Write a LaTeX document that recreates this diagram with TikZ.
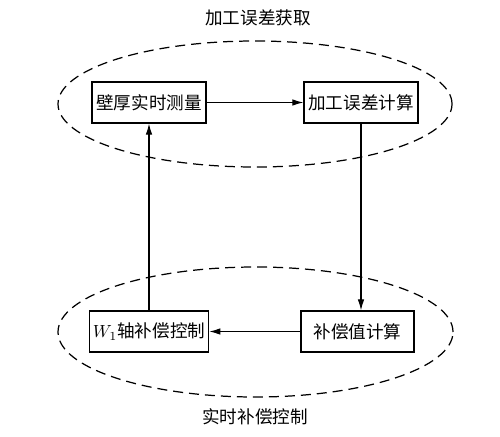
\documentclass[tikz,border=0pt]{standalone}
\usepackage{fontspec}
\newfontfamily\cjk{Noto Sans CJK SC}
\usetikzlibrary{arrows.meta, positioning}

\begin{document}
\begin{tikzpicture}[
    box/.style={draw, line width=0.7pt, minimum width=2.28cm, minimum height=0.82cm, inner sep=2pt, font=\cjk\fontsize{10}{12}\selectfont},
    zone/.style={draw, line width=0.7pt, dash pattern=on 0.2cm off 0.12cm},
    title/.style={font=\cjk\fontsize{10}{12}\selectfont},
    flow/.style={line width=0.6pt, -{Latex[length=2.2mm, width=1.3mm]}}
  ]
  \useasboundingbox (0,0) rectangle (10,-8.72);

  % Error acquisition
  \draw[zone] (5.10,-2.08) ellipse [x radius=3.94, y radius=1.26];
  \node[title] (acqtitle) at (5.16,-0.36) {加工误差获取};
  \node[box] (measure) at (2.98,-2.05) {壁厚实时测量};
  \node[box] (errcalc) at (7.22,-2.05) {加工误差计算};

  % Real-time compensation
  \draw[zone] (5.11,-6.64) ellipse [x radius=3.95, y radius=1.30];
  \node[title] (comptitle) at (5.10,-8.34) {实时补偿控制};
  \node[box] (axisctl) at (2.98,-6.63) {$W_1$轴补偿控制};
  \node[box, minimum width=2.26cm] (compcalc) at (7.15,-6.63) {补偿值计算};

  % Connectors
  \draw[flow] (measure) -- (errcalc);
  \draw[flow] (errcalc.south) -- (errcalc.south |- compcalc.north);
  \draw[flow] (compcalc) -- (axisctl);
  \draw[flow] (axisctl.north) -- (measure.south);
\end{tikzpicture}
\end{document}
